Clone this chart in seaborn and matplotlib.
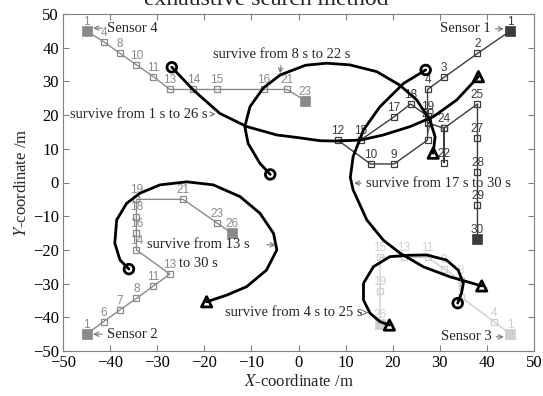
import matplotlib
matplotlib.use("Agg")
import matplotlib.pyplot as plt
import seaborn as sns
import pandas as pd

# ---------------- data ----------------
# Sensor paths (x, y, step label)
s1_x = [45, 38.0, 30.9, 27.4, 27.4, 20.3, 15.3, 8.3, 13.2, 20.3, 23.8, 27.4, 27.4, 30.9, 30.9, 30.9, 38.0, 38.0, 38.0, 38.0, 38.0]
s1_y = [45, 38.3, 31.2, 27.6, 12.6, 5.5, 5.5, 12.6, 12.6, 19.5, 23.3, 19.7, 17.7, 16.1, 5.9, 16.1, 23.3, 13.3, 3.2, -6.7, -16.9]
s1_l = ["1", "2", "3", "4", "7", "9", "10", "12", "15", "17", "18", "19", "20", "", "22", "24", "25", "27", "28", "29", "30"]

s2_x = [-45, -41.4, -37.9, -34.4, -30.8, -27.3, -34.4, -34.4, -34.4, -34.4, -24.5, -17.4, -14.1]
s2_y = [-45, -41.3, -37.8, -34.4, -30.7, -27.2, -20.0, -14.9, -10.1, -5.0, -5.0, -11.9, -15.1]
s2_l = ["1", "6", "7", "8", "11", "13", "14", "16", "18", "19", "21", "23", "26"]

s3_x = [45, 41.5, 34.4, 34.4, 30.9, 27.4, 22.4, 17.3, 17.3, 17.3]
s3_y = [-45, -41.3, -33.9, -28.9, -25.6, -22.2, -22.2, -22.2, -32.1, -42.1]
s3_l = ["1", "4", "6", "8", "9", "11", "13", "15", "19", "26"]

s4_x = [-45, -41.4, -37.9, -34.4, -30.8, -27.3, -22.3, -17.4, -7.3, -2.4, 1.4]
s4_y = [45, 41.8, 38.3, 34.9, 31.4, 27.6, 27.6, 27.6, 27.6, 27.6, 24.3]
s4_l = ["1", "4", "8", "10", "11", "13", "14", "15", "16", "21", "23"]

# Target trajectories (start = circle, end = triangle)
tA_x = [-26.9, -22.3, -16.7, -11.0, -4.6, 0.0, 4.6, 8.3, 13.2, 18.0, 23.7, 28.6, 33.6, 38.2]
tA_y = [34.2, 27.4, 20.5, 16.6, 14.1, 13.3, 12.4, 12.3, 12.6, 14.1, 16.6, 19.5, 24.5, 31.4]

tB_x = [-6.0, -8.2, -10.7, -11.4, -10.3, -7.5, -3.9, 1.5, 6.0, 10.9, 16.6, 21.5, 25.1, 27.9, 29.0, 28.6]
tB_y = [2.4, 5.7, 11.6, 16.6, 22.5, 28.0, 31.9, 34.8, 35.4, 34.9, 32.9, 28.9, 24.5, 18.5, 13.6, 8.7]

tC_x = [27.0, 22.3, 17.3, 13.8, 11.6, 11.0, 11.6, 14.5, 18.0, 21.6, 26.5, 32.2, 38.9]
tC_y = [33.4, 29.4, 22.5, 15.6, 7.7, 1.5, -2.2, -11.1, -17.1, -21.0, -25.0, -28.0, -30.7]

tD_x = [-36.0, -37.9, -39.0, -38.6, -36.5, -33.7, -29.4, -23.7, -18.1, -12.4, -8.2, -5.3, -4.6, -6.8, -11.0, -15.2, -19.5]
tD_y = [-25.7, -23.0, -18.0, -11.1, -6.2, -3.2, -0.7, 0.2, -0.7, -4.2, -9.1, -15.1, -20.0, -26.0, -30.9, -33.4, -35.4]

tE_x = [33.8, 34.6, 35.0, 33.9, 31.4, 27.2, 23.3, 19.4, 15.9, 13.8, 13.8, 15.2, 17.3, 19.3]
tE_y = [-35.8, -32.9, -29.9, -26.0, -23.0, -21.5, -21.6, -22.0, -25.0, -29.9, -34.9, -38.8, -41.3, -42.3]

xticks = [-50, -40, -30, -20, -10, 0, 10, 20, 30, 40, 50]
yticks = [-50, -40, -30, -20, -10, 0, 10, 20, 30, 40, 50]

# ---------------- style ----------------
sns.set_theme(style="ticks")
plt.rcParams["font.family"] = ["Liberation Serif", "DejaVu Serif"]
plt.rcParams["mathtext.fontset"] = "stix"
plt.rcParams["axes.unicode_minus"] = True

fig = plt.figure(figsize=(5.43, 3.96), dpi=100)
ax = fig.add_axes([63 / 543, 45 / 396, 471 / 543, 337 / 396])

sensors = [
    (s1_x, s1_y, s1_l, "#3c3c3c"),
    (s2_x, s2_y, s2_l, "#8a8a8a"),
    (s3_x, s3_y, s3_l, "#cfcfcf"),
    (s4_x, s4_y, s4_l, "#8a8a8a"),
]

for xs, ys, ls, c in sensors:
    df = pd.DataFrame({"x": xs, "y": ys})
    sns.lineplot(data=df, x="x", y="y", sort=False, estimator=None, ax=ax,
                 color=c, lw=1.0, marker="s", markersize=5,
                 markerfacecolor="none", markeredgecolor=c, markeredgewidth=0.9,
                 zorder=2)
    sns.scatterplot(x=[xs[0], xs[-1]], y=[ys[0], ys[-1]], marker="s", s=42,
                    color=c, edgecolor=c, linewidth=0.5, ax=ax, zorder=3)
    for x, y, l in zip(xs, ys, ls):
        if l:
            ax.annotate(l, (x, y), xytext=(0, 2.2), textcoords="offset points",
                        ha="center", va="bottom", color=c, fontsize=8.5,
                        family="Liberation Sans", zorder=3)

targets = [(tA_x, tA_y), (tB_x, tB_y), (tC_x, tC_y), (tD_x, tD_y), (tE_x, tE_y)]
for xs, ys in targets:
    df = pd.DataFrame({"x": xs, "y": ys})
    sns.lineplot(data=df, x="x", y="y", sort=False, estimator=None, ax=ax,
                 color="black", lw=2.0, zorder=4)
    sns.scatterplot(x=[xs[0]], y=[ys[0]], marker="o", s=48, facecolor="none",
                    edgecolor="black", linewidth=2.0, ax=ax, zorder=5)
    sns.scatterplot(x=[xs[-1]], y=[ys[-1]], marker="^", s=55, facecolor="none",
                    edgecolor="black", linewidth=2.0, ax=ax, zorder=5)

arrow = dict(arrowstyle="->", color="#777777", lw=0.8, shrinkA=1, shrinkB=0,
             mutation_scale=8)
fs = 10.5
# sensor labels
ax.annotate("Sensor 4", xy=(-43.6, 45.8), xytext=(-40.7, 45.8), ha="left", va="center",
            fontsize=fs, arrowprops=arrow, zorder=6)
ax.annotate("Sensor 1", xy=(43.6, 45.6), xytext=(40.8, 45.6), ha="right", va="center",
            fontsize=fs, arrowprops=arrow, zorder=6)
ax.annotate("Sensor 2", xy=(-43.6, -45.0), xytext=(-40.7, -45.0), ha="left", va="center",
            fontsize=fs, arrowprops=arrow, zorder=6)
ax.annotate("Sensor 3", xy=(43.6, -45.8), xytext=(41.0, -45.8), ha="right", va="center",
            fontsize=fs, arrowprops=arrow, zorder=6)

# survival labels
ax.annotate("survive from 1 s to 26 s", xy=(-17.6, 20.3), xytext=(-48.5, 20.3),
            ha="left", va="center", fontsize=fs, arrowprops=arrow, zorder=6)
ax.annotate("survive from 8 s to 22 s", xy=(-3.9, 32.4), xytext=(-3.5, 38.0),
            ha="center", va="center", fontsize=fs, arrowprops=arrow, zorder=6)
ax.annotate("survive from 17 s to 30 s", xy=(11.8, -0.2), xytext=(14.3, -0.2),
            ha="left", va="center", fontsize=fs, arrowprops=arrow, zorder=6)
ax.text(-21.3, -18.5, "survive from 13 s", ha="center", va="center", fontsize=fs, zorder=6)
ax.text(-21.3, -23.9, "to 30 s", ha="center", va="center", fontsize=fs, zorder=6)
ax.annotate("", xy=(-4.8, -18.5), xytext=(-7.0, -18.5), arrowprops=arrow, zorder=6)
ax.annotate("survive from 4 s to 25 s", xy=(14.8, -38.6), xytext=(-15.6, -38.6),
            ha="left", va="center", fontsize=fs, arrowprops=arrow, zorder=6)

# axes
ax.set_xlim(-50, 50)
ax.set_ylim(-50, 50)
ax.set_xticks(xticks)
ax.set_yticks(yticks)
ax.tick_params(direction="in", top=True, right=True, length=4, width=0.8,
               color="#808080", labelsize=12, labelcolor="black", pad=3)
for sp in ax.spines.values():
    sp.set_color("#808080")
    sp.set_linewidth(0.8)
ax.set_xlabel(r"$X$-coordinate /m", fontsize=12, labelpad=2)
ax.set_ylabel(r"$Y$-coordinate /m", fontsize=12, labelpad=2)

fig.text(0.49, 1 - 5 / 396, "exhaustive search method", ha="center", va="baseline",
         fontsize=17)

fig.savefig("out.png", dpi=100)
